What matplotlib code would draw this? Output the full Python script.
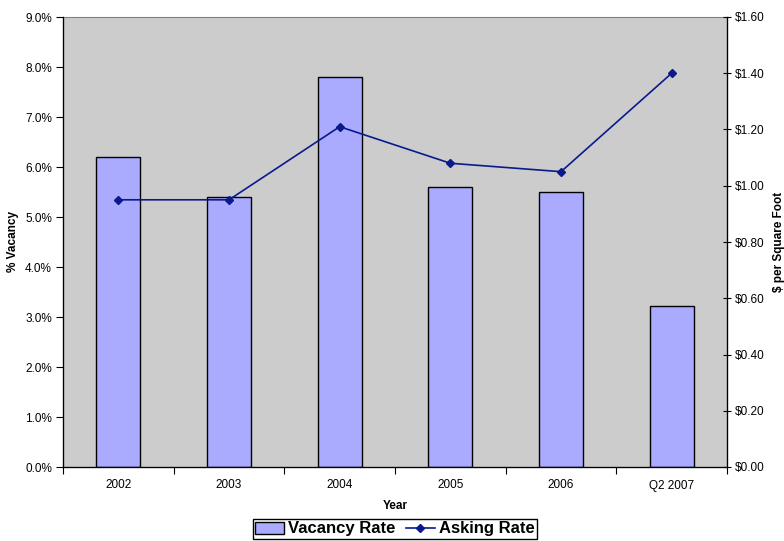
import matplotlib
matplotlib.use("Agg")
import matplotlib.pyplot as plt
from matplotlib.ticker import FuncFormatter, FixedLocator, NullFormatter
from matplotlib.patches import Patch
from matplotlib.lines import Line2D
import numpy as np

plt.rcParams['font.family'] = ['Liberation Sans', 'DejaVu Sans']

years = ["2002", "2003", "2004", "2005", "2006", "Q2 2007"]
vacancy_rate = [6.2, 5.4, 7.8, 5.6, 5.5, 3.22]       # percent
asking_rate = [0.95, 0.95, 1.21, 1.08, 1.05, 1.40]   # dollars per sq ft

bar_color = "#AAAAFF"
line_color = "#0A1A8C"
plot_bg = "#CCCCCC"

fig = plt.figure(figsize=(7.84, 5.41), dpi=100)
ax = fig.add_axes([63 / 784, 1 - 467 / 541, (727 - 63) / 784, (467 - 17) / 541])
ax.set_facecolor(plot_bg)

x = np.arange(len(years))
ax.bar(x, vacancy_rate, width=0.4, color=bar_color, edgecolor="black", linewidth=1.0, zorder=2)
ax.set_xlim(-0.5, len(years) - 0.5)
ax.set_ylim(0, 9)
ax.set_yticks(np.arange(0, 9.01, 1.0))
ax.yaxis.set_major_formatter(FuncFormatter(lambda v, p: f"{v:.1f}%"))
ax.set_xticks(x)
ax.set_xticklabels(years)
ax.tick_params(axis="x", which="major", length=0, pad=9, labelsize=8.5)
ax.xaxis.set_minor_locator(FixedLocator(np.arange(-0.5, len(years), 1.0)))
ax.xaxis.set_minor_formatter(NullFormatter())
ax.tick_params(axis="x", which="minor", length=5, direction="out", width=0.8)
ax.tick_params(axis="y", length=5, direction="out", width=0.8, labelsize=8.5, pad=3)
ax.spines["top"].set_color("#808080")
ax.spines["top"].set_linewidth(0.8)
for s in ("left", "bottom", "right"):
    ax.spines[s].set_linewidth(0.9)
ax.set_xlabel("Year", fontsize=8.5, fontweight="bold", labelpad=6)
ax.set_ylabel("% Vacancy", fontsize=8.5, fontweight="bold", labelpad=4)

ax2 = ax.twinx()
ax2.plot(x, asking_rate, color=line_color, linewidth=1.2, marker="D", markersize=4.5,
         markerfacecolor=line_color, markeredgecolor=line_color, zorder=3)
ax2.set_ylim(0, 1.6)
ax2.set_yticks(np.arange(0, 1.601, 0.2))
ax2.yaxis.set_major_formatter(FuncFormatter(lambda v, p: f"${v:.2f}"))
ax2.tick_params(axis="y", length=6, direction="inout", width=0.8, labelsize=8.5, pad=3)
ax2.set_ylabel("$ per Square Foot", fontsize=8.5, fontweight="bold", labelpad=6)
ax2.spines["top"].set_visible(False)

handles = [Patch(facecolor=bar_color, edgecolor="black", linewidth=1.0),
           Line2D([0], [0], color=line_color, linewidth=1.2, marker="D", markersize=4.5)]
leg = fig.legend(handles, ["Vacancy Rate", "Asking Rate"], loc="upper center",
                 bbox_to_anchor=(395 / 784, 1 - 519 / 541), ncol=2, frameon=True,
                 fancybox=False, edgecolor="black", framealpha=1,
                 prop={"size": 12, "weight": "bold"}, handlelength=1.75,
                 handletextpad=0.25, columnspacing=0.6, borderpad=0.15,
                 borderaxespad=0)
leg.get_frame().set_linewidth(1.0)

fig.savefig("out.png", dpi=100, facecolor="white")
